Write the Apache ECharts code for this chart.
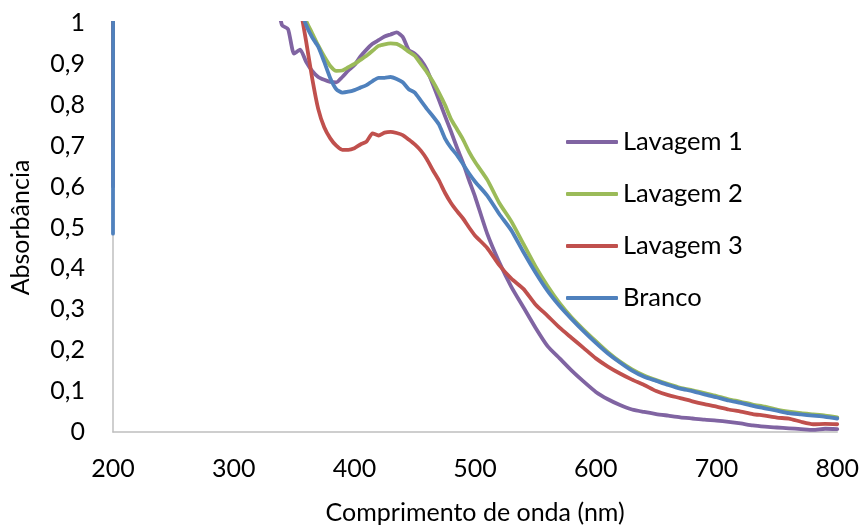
<!DOCTYPE html>
<html>
<head>
<meta charset="utf-8">
<script src="https://cdn.jsdelivr.net/npm/echarts@6/dist/echarts.min.js"></script>
<style>
  html, body { margin: 0; padding: 0; background: #fff; }
  #chart { width: 862px; height: 530px; }
</style>
</head>
<body>
<div id="chart"></div>
<script>
// Wavelengths (nm); values above 1 fall outside the absorbance axis and are clipped
const wavelengths = [200, 201, 250, 300,
  330, 335, 340, 345, 350, 355, 360, 365, 370, 375, 380, 385, 390, 395, 400,
  405, 410, 415, 420, 425, 430, 435, 440, 445, 450, 455, 460, 465, 470, 475,
  480, 485, 490, 495, 500,
  510, 520, 530, 540, 550, 560, 570, 580, 590, 600, 610, 620, 630, 640, 650,
  660, 670, 680, 690, 700, 710, 720, 730, 740, 750, 760, 770, 780, 790, 800];

const lavagem1 = [0.6, 3, 3, 2.5,
  1.25, 1.07, 0.995, 0.985, 0.925, 0.935, 0.905, 0.883, 0.868, 0.861, 0.856, 0.855, 0.868, 0.884, 0.897,
  0.918, 0.935, 0.949, 0.958, 0.967, 0.972, 0.977, 0.966, 0.934, 0.925, 0.910, 0.886, 0.850, 0.812, 0.773,
  0.735, 0.695, 0.658, 0.615, 0.575,
  0.485, 0.415, 0.355, 0.305, 0.255, 0.210, 0.180, 0.150, 0.123, 0.098, 0.080, 0.066, 0.055, 0.049, 0.044,
  0.040, 0.036, 0.033, 0.030, 0.028, 0.025, 0.021, 0.016, 0.013, 0.011, 0.009, 0.007, 0.005, 0.008, 0.007];

const lavagem2 = [0.905, 3, 3, 3,
  1.6, 1.45, 1.3, 1.18, 1.1, 1.05, 1.005, 0.975, 0.945, 0.918, 0.895, 0.883, 0.884, 0.892, 0.900,
  0.910, 0.920, 0.932, 0.944, 0.948, 0.950, 0.949, 0.941, 0.930, 0.920, 0.900, 0.880, 0.857, 0.830, 0.800,
  0.765, 0.740, 0.715, 0.685, 0.660,
  0.617, 0.560, 0.515, 0.460, 0.405, 0.357, 0.315, 0.280, 0.250, 0.222, 0.195, 0.172, 0.153, 0.138, 0.127,
  0.117, 0.108, 0.102, 0.095, 0.088, 0.080, 0.074, 0.067, 0.062, 0.055, 0.050, 0.046, 0.043, 0.040, 0.036];

const lavagem3 = [0.7, 3, 3, 3,
  1.8, 1.6, 1.4, 1.25, 1.13, 1.04, 0.955, 0.865, 0.790, 0.745, 0.718, 0.700, 0.690, 0.690, 0.694,
  0.703, 0.710, 0.730, 0.725, 0.732, 0.734, 0.731, 0.726, 0.715, 0.703, 0.688, 0.667, 0.640, 0.615, 0.585,
  0.560, 0.540, 0.522, 0.500, 0.480,
  0.450, 0.408, 0.375, 0.350, 0.312, 0.284, 0.255, 0.230, 0.205, 0.180, 0.160, 0.143, 0.128, 0.115, 0.100,
  0.090, 0.083, 0.075, 0.068, 0.062, 0.055, 0.050, 0.044, 0.040, 0.035, 0.033, 0.025, 0.019, 0.020, 0.019];

const branco = [0.485, 3, 3, 3,
  1.5, 1.35, 1.25, 1.16, 1.1, 1.04, 0.995, 0.965, 0.942, 0.905, 0.865, 0.838, 0.830, 0.832, 0.836,
  0.842, 0.848, 0.858, 0.866, 0.866, 0.868, 0.863, 0.855, 0.838, 0.830, 0.810, 0.790, 0.772, 0.752, 0.718,
  0.695, 0.677, 0.655, 0.632, 0.612,
  0.578, 0.533, 0.493, 0.440, 0.390, 0.345, 0.308, 0.276, 0.246, 0.218, 0.192, 0.170, 0.150, 0.135, 0.125,
  0.115, 0.106, 0.100, 0.092, 0.085, 0.077, 0.071, 0.064, 0.058, 0.052, 0.046, 0.043, 0.040, 0.037, 0.033];

const seriesNames = ['Lavagem 1', 'Lavagem 2', 'Lavagem 3', 'Branco'];
const seriesValues = [lavagem1, lavagem2, lavagem3, branco];
const seriesColors = ['#8064A2', '#9BBB59', '#C0504D', '#4F81BD'];

const FONT = 'Lato';
const chart = echarts.init(document.getElementById('chart'), null, { renderer: 'canvas' });

chart.setOption({
  animation: false,
  backgroundColor: '#ffffff',
  textStyle: { fontFamily: FONT },
  grid: { left: 112, right: 24, top: 23, bottom: 95, containLabel: false },
  legend: {
    orient: 'vertical',
    left: 561,
    top: 124,
    icon: 'roundRect',
    itemWidth: 52,
    itemHeight: 4,
    itemGap: 26,
    data: seriesNames,
    textStyle: { fontFamily: FONT, fontSize: 25.5, color: '#000', padding: [0, 0, 0, 0] }
  },
  xAxis: {
    type: 'value',
    min: 200,
    max: 800,
    interval: 100,
    name: 'Comprimento de onda (nm)',
    nameLocation: 'middle',
    nameGap: 68,
    nameTextStyle: { fontFamily: FONT, fontSize: 25, color: '#000' },
    axisLine: { show: true, lineStyle: { color: '#BFBFBF', width: 1.5 } },
    axisTick: { show: false },
    splitLine: { show: false },
    axisLabel: { fontFamily: FONT, fontSize: 25, color: '#000', margin: 24 }
  },
  yAxis: {
    type: 'value',
    min: 0,
    max: 1,
    interval: 0.1,
    name: 'Absorbância',
    nameLocation: 'middle',
    nameGap: 80,
    nameTextStyle: { fontFamily: FONT, fontSize: 25, color: '#000' },
    axisLine: { show: true, lineStyle: { color: '#BFBFBF', width: 1.5 } },
    axisTick: { show: false },
    splitLine: { show: false },
    axisLabel: {
      fontFamily: FONT, fontSize: 25, color: '#000', margin: 28,
      formatter: v => String(Math.round(v * 10) / 10).replace('.', ',')
    }
  },
  series: seriesNames.map((name, i) => ({
    name,
    type: 'line',
    data: wavelengths.map((w, j) => [w, seriesValues[i][j]]),
    showSymbol: false,
    symbol: 'none',
    clip: true,
    smooth: 0.2,
    color: seriesColors[i],
    lineStyle: { width: 3.8, color: seriesColors[i], cap: 'round', join: 'round' }
  }))
});
</script>
</body>
</html>
